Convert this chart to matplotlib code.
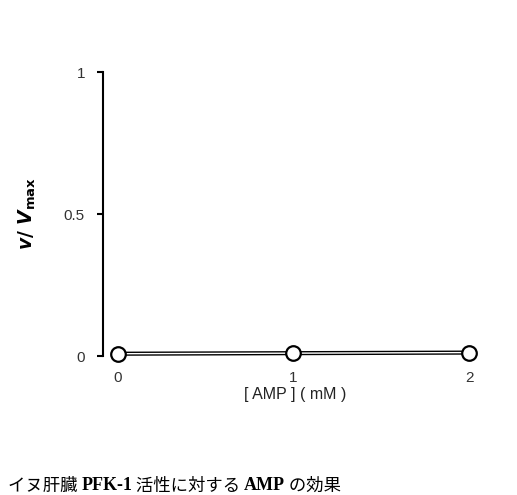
import matplotlib
matplotlib.use('Agg')
import matplotlib.pyplot as plt

# AMP concentration (mM) vs relative activity
amp = [0, 1, 2]
v_rel = [0.008, 0.010, 0.012]
yticks = [0, 0.5, 1]
ytick_labels = ['0', '0.5', '1']
caption = [('イヌ肝臓 ', 'jp'), ('PFK-1', 'en'), (' 活性に対する ', 'jp'), ('AMP', 'en'), (' の効果', 'jp')]

plt.rcParams['font.family'] = ['Liberation Sans', 'DejaVu Sans']
plt.rcParams['mathtext.fontset'] = 'custom'
plt.rcParams['mathtext.it'] = 'DejaVu Sans:italic:bold'
plt.rcParams['mathtext.rm'] = 'DejaVu Sans:bold'

W, H = 517, 495
fig = plt.figure(figsize=(W / 100, H / 100), dpi=100)
ax = fig.add_axes([103 / W, (H - 356) / H, 383.6 / W, 284 / H])

ax.plot(amp, v_rel, color='black', lw=3.0, solid_capstyle='butt', zorder=2, clip_on=False)
ax.plot(amp, v_rel, color='white', lw=1.0, solid_capstyle='butt', zorder=3, clip_on=False)
ax.plot(amp, v_rel, 'o', ms=10.5, mfc='white', mec='black', mew=1.6, zorder=4, clip_on=False)

ax.set_xlim(-0.085, 2.1)
ax.set_ylim(0, 1)
ax.set_xticks(amp)
ax.set_xticklabels(['0', '1', '2'])
ax.set_yticks(yticks)
ax.set_yticklabels(ytick_labels)
for s in ['top', 'right', 'bottom']:
    ax.spines[s].set_visible(False)
ax.spines['left'].set_linewidth(1.5)
ax.tick_params(axis='y', direction='out', length=4, width=1.5, pad=9, labelsize=11,
               colors='black', labelcolor='#333333')
ax.tick_params(axis='x', length=0, pad=11, labelsize=11, labelcolor='#333333')

ax.set_xlabel('[ AMP ] ( mM )', fontsize=11.5, labelpad=1, color='#222222')
ax.set_ylabel(r'$v/\ V_{\mathrm{max}}$', fontsize=13.5)
ax.yaxis.set_label_coords(-0.17, 0.5)

# caption built from pieces so the Latin parts can be bold serif
fig.canvas.draw()
r = fig.canvas.get_renderer()
x = 8
for txt, kind in caption:
    if kind == 'jp':
        t = fig.text(x / W, (H - 477) / H, txt, fontsize=12.5, va='top',
                     family=['Noto Sans CJK JP', 'DejaVu Sans'])
    else:
        t = fig.text(x / W, (H - 477) / H, txt, fontsize=13, va='top',
                     family='Liberation Serif', weight='bold')
    x = t.get_window_extent(r).x1

fig.savefig('out.png', dpi=100)
